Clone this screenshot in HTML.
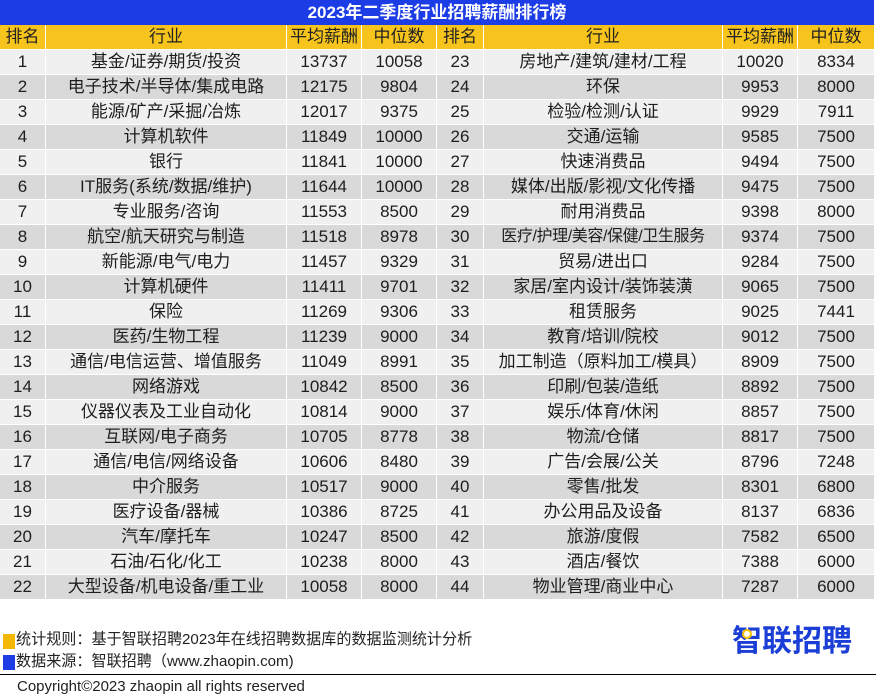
<!DOCTYPE html>
<html>
<head>
<meta charset="utf-8">
<style>
html,body{margin:0;padding:0;background:#fff;}
body{width:876px;height:700px;position:relative;overflow:hidden;font-family:"Liberation Sans","Noto Sans CJK SC",sans-serif;color:#1e1e1e;}
.title{position:absolute;left:0;top:0;width:874px;height:25px;background:#1c3de6;color:#fff;font-weight:bold;font-size:17px;line-height:25px;text-align:center;}
.tbl{position:absolute;left:0;top:25px;width:874px;}
.row{display:flex;height:25px;}
.c{box-sizing:border-box;height:25px;border-right:1px solid #fff;border-bottom:1px solid #fff;text-align:center;line-height:24px;font-size:17px;white-space:nowrap;overflow:hidden;}
.w1{width:46px}.w2{width:241px}.w3{width:75px}.w4{width:75px}.w5{width:47px}.w6{width:239px}.w7{width:75px}.w8{width:76px;border-right:none}
.h .c{background:#f6c41c;color:#222;}
.l .c{background:#f0f0f0;}
.d .c{background:#d9d9d9;}
.sm{font-size:16px;letter-spacing:-0.4px;}
.sq{position:absolute;left:3px;width:12px;height:15px;}
.ft{position:absolute;left:16px;font-size:15.1px;line-height:20px;color:#222;white-space:nowrap;}
.hr{position:absolute;left:0;top:674px;width:876px;height:1px;background:#000;}
.logo{position:absolute;left:732px;top:627px;font-size:30px;line-height:30px;font-weight:bold;color:#1b3fd6;white-space:nowrap;}
.dot{position:absolute;left:742px;top:629px;width:6px;height:6px;border:2px solid #f5c000;border-radius:50%;background:#fff;}
</style>
</head>
<body>
<div class="title">2023年二季度行业招聘薪酬排行榜</div>
<div class="tbl">
<div class="row h"><div class="c w1">排名</div><div class="c w2">行业</div><div class="c w3">平均薪酬</div><div class="c w4">中位数</div><div class="c w5">排名</div><div class="c w6">行业</div><div class="c w7">平均薪酬</div><div class="c w8">中位数</div></div>
<div class="row l"><div class="c w1">1</div><div class="c w2">基金/证券/期货/投资</div><div class="c w3">13737</div><div class="c w4">10058</div><div class="c w5">23</div><div class="c w6">房地产/建筑/建材/工程</div><div class="c w7">10020</div><div class="c w8">8334</div></div>
<div class="row d"><div class="c w1">2</div><div class="c w2">电子技术/半导体/集成电路</div><div class="c w3">12175</div><div class="c w4">9804</div><div class="c w5">24</div><div class="c w6">环保</div><div class="c w7">9953</div><div class="c w8">8000</div></div>
<div class="row l"><div class="c w1">3</div><div class="c w2">能源/矿产/采掘/冶炼</div><div class="c w3">12017</div><div class="c w4">9375</div><div class="c w5">25</div><div class="c w6">检验/检测/认证</div><div class="c w7">9929</div><div class="c w8">7911</div></div>
<div class="row d"><div class="c w1">4</div><div class="c w2">计算机软件</div><div class="c w3">11849</div><div class="c w4">10000</div><div class="c w5">26</div><div class="c w6">交通/运输</div><div class="c w7">9585</div><div class="c w8">7500</div></div>
<div class="row l"><div class="c w1">5</div><div class="c w2">银行</div><div class="c w3">11841</div><div class="c w4">10000</div><div class="c w5">27</div><div class="c w6">快速消费品</div><div class="c w7">9494</div><div class="c w8">7500</div></div>
<div class="row d"><div class="c w1">6</div><div class="c w2">IT服务(系统/数据/维护)</div><div class="c w3">11644</div><div class="c w4">10000</div><div class="c w5">28</div><div class="c w6">媒体/出版/影视/文化传播</div><div class="c w7">9475</div><div class="c w8">7500</div></div>
<div class="row l"><div class="c w1">7</div><div class="c w2">专业服务/咨询</div><div class="c w3">11553</div><div class="c w4">8500</div><div class="c w5">29</div><div class="c w6">耐用消费品</div><div class="c w7">9398</div><div class="c w8">8000</div></div>
<div class="row d"><div class="c w1">8</div><div class="c w2">航空/航天研究与制造</div><div class="c w3">11518</div><div class="c w4">8978</div><div class="c w5">30</div><div class="c w6 sm">医疗/护理/美容/保健/卫生服务</div><div class="c w7">9374</div><div class="c w8">7500</div></div>
<div class="row l"><div class="c w1">9</div><div class="c w2">新能源/电气/电力</div><div class="c w3">11457</div><div class="c w4">9329</div><div class="c w5">31</div><div class="c w6">贸易/进出口</div><div class="c w7">9284</div><div class="c w8">7500</div></div>
<div class="row d"><div class="c w1">10</div><div class="c w2">计算机硬件</div><div class="c w3">11411</div><div class="c w4">9701</div><div class="c w5">32</div><div class="c w6">家居/室内设计/装饰装潢</div><div class="c w7">9065</div><div class="c w8">7500</div></div>
<div class="row l"><div class="c w1">11</div><div class="c w2">保险</div><div class="c w3">11269</div><div class="c w4">9306</div><div class="c w5">33</div><div class="c w6">租赁服务</div><div class="c w7">9025</div><div class="c w8">7441</div></div>
<div class="row d"><div class="c w1">12</div><div class="c w2">医药/生物工程</div><div class="c w3">11239</div><div class="c w4">9000</div><div class="c w5">34</div><div class="c w6">教育/培训/院校</div><div class="c w7">9012</div><div class="c w8">7500</div></div>
<div class="row l"><div class="c w1">13</div><div class="c w2">通信/电信运营、增值服务</div><div class="c w3">11049</div><div class="c w4">8991</div><div class="c w5">35</div><div class="c w6">加工制造（原料加工/模具）</div><div class="c w7">8909</div><div class="c w8">7500</div></div>
<div class="row d"><div class="c w1">14</div><div class="c w2">网络游戏</div><div class="c w3">10842</div><div class="c w4">8500</div><div class="c w5">36</div><div class="c w6">印刷/包装/造纸</div><div class="c w7">8892</div><div class="c w8">7500</div></div>
<div class="row l"><div class="c w1">15</div><div class="c w2">仪器仪表及工业自动化</div><div class="c w3">10814</div><div class="c w4">9000</div><div class="c w5">37</div><div class="c w6">娱乐/体育/休闲</div><div class="c w7">8857</div><div class="c w8">7500</div></div>
<div class="row d"><div class="c w1">16</div><div class="c w2">互联网/电子商务</div><div class="c w3">10705</div><div class="c w4">8778</div><div class="c w5">38</div><div class="c w6">物流/仓储</div><div class="c w7">8817</div><div class="c w8">7500</div></div>
<div class="row l"><div class="c w1">17</div><div class="c w2">通信/电信/网络设备</div><div class="c w3">10606</div><div class="c w4">8480</div><div class="c w5">39</div><div class="c w6">广告/会展/公关</div><div class="c w7">8796</div><div class="c w8">7248</div></div>
<div class="row d"><div class="c w1">18</div><div class="c w2">中介服务</div><div class="c w3">10517</div><div class="c w4">9000</div><div class="c w5">40</div><div class="c w6">零售/批发</div><div class="c w7">8301</div><div class="c w8">6800</div></div>
<div class="row l"><div class="c w1">19</div><div class="c w2">医疗设备/器械</div><div class="c w3">10386</div><div class="c w4">8725</div><div class="c w5">41</div><div class="c w6">办公用品及设备</div><div class="c w7">8137</div><div class="c w8">6836</div></div>
<div class="row d"><div class="c w1">20</div><div class="c w2">汽车/摩托车</div><div class="c w3">10247</div><div class="c w4">8500</div><div class="c w5">42</div><div class="c w6">旅游/度假</div><div class="c w7">7582</div><div class="c w8">6500</div></div>
<div class="row l"><div class="c w1">21</div><div class="c w2">石油/石化/化工</div><div class="c w3">10238</div><div class="c w4">8000</div><div class="c w5">43</div><div class="c w6">酒店/餐饮</div><div class="c w7">7388</div><div class="c w8">6000</div></div>
<div class="row d"><div class="c w1">22</div><div class="c w2">大型设备/机电设备/重工业</div><div class="c w3">10058</div><div class="c w4">8000</div><div class="c w5">44</div><div class="c w6">物业管理/商业中心</div><div class="c w7">7287</div><div class="c w8">6000</div></div>
</div>

<div class="sq" style="top:634px;background:#f5b800;"></div>
<div class="ft" style="top:630px;">统计规则：基于智联招聘2023年在线招聘数据库的数据监测统计分析</div>
<div class="sq" style="top:655px;background:#1c3de6;"></div>
<div class="ft" style="top:652px;">数据来源：智联招聘（www.zhaopin.com)</div>
<div class="logo">智联招聘</div>
<div class="dot"></div>
<div class="hr"></div>
<div class="ft" style="top:677px;left:17px;font-size:15px;">Copyright©2023 zhaopin all rights reserved</div>
</body>
</html>
